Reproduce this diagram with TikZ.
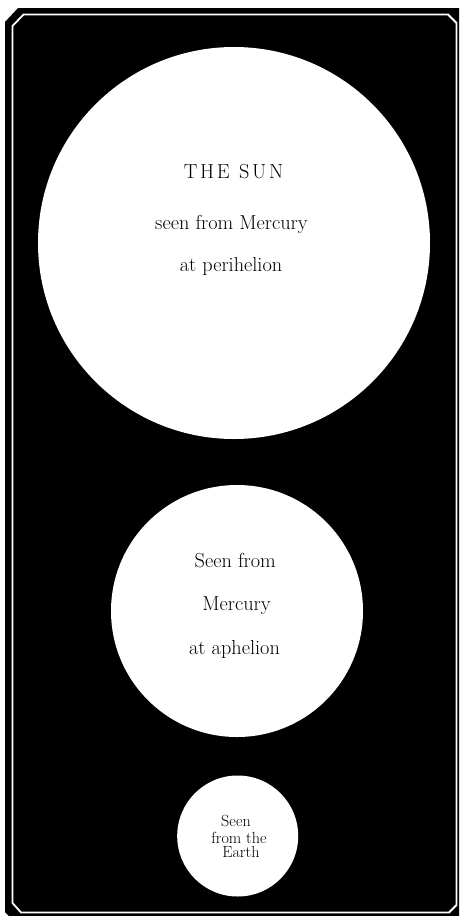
\documentclass[tikz,border=0pt]{standalone}
\usepackage{fontspec}
\begin{document}
\begin{tikzpicture}[x=1pt,y=-1pt,
  disc/.style={circle,fill=white,draw=none,inner sep=0pt},
  lbl/.style={anchor=base,inner sep=0pt,text=black,font=\fontsize{20.3}{24}\selectfont\addfontfeatures{FakeBold=0.5}},
  slbl/.style={anchor=base,inner sep=0pt,text=black,font=\fontsize{16.1}{18}\selectfont\addfontfeatures{FakeBold=0.5}}]
\useasboundingbox (0,0) rectangle (459,916);
\clip (0,0) rectangle (459,916);
% black panel
\fill[black] (5,22) -- (18,8) -- (470,8) -- (470,925) -- (18,925) -- (5,912) -- cycle;
% thin inner white line
\draw[white,line width=1.8pt,line join=miter]
  (12.5,26) -- (23.5,14.5) -- (448,14.5) -- (456.5,23) -- (456.5,905)
  -- (449,912.5) -- (21,912.5) -- (12.5,903) -- cycle;
% discs
\node[disc,minimum size=392pt] (peri) at (234,243) {};
\node[disc,minimum size=252pt] (aph) at (237,611) {};
\node[disc,minimum size=121pt] (earth) at (237.7,836) {};
% labels
\node[lbl] (t1) at (233.5,178) {T\kern2.7pt H\kern2.7pt E\hspace{9.5pt}S\kern2.7pt U\kern2.7pt N};
\node[lbl] (t2) at (231.5,229) {seen from Mercury};
\node[lbl] (t3) at (231,271) {at perihelion};
\node[lbl] (a1) at (235.3,567.7) {Seen from};
\node[lbl] (a2) at (236.5,610) {Mercury};
\node[lbl] (a3) at (234.5,654) {at aphelion};
\node[slbl] (e1) at (236,826) {Seen};
\node[slbl] (e2) at (239,843) {from the};
\node[slbl] (e3) at (241,857.7) {Earth};
\end{tikzpicture}
\end{document}
